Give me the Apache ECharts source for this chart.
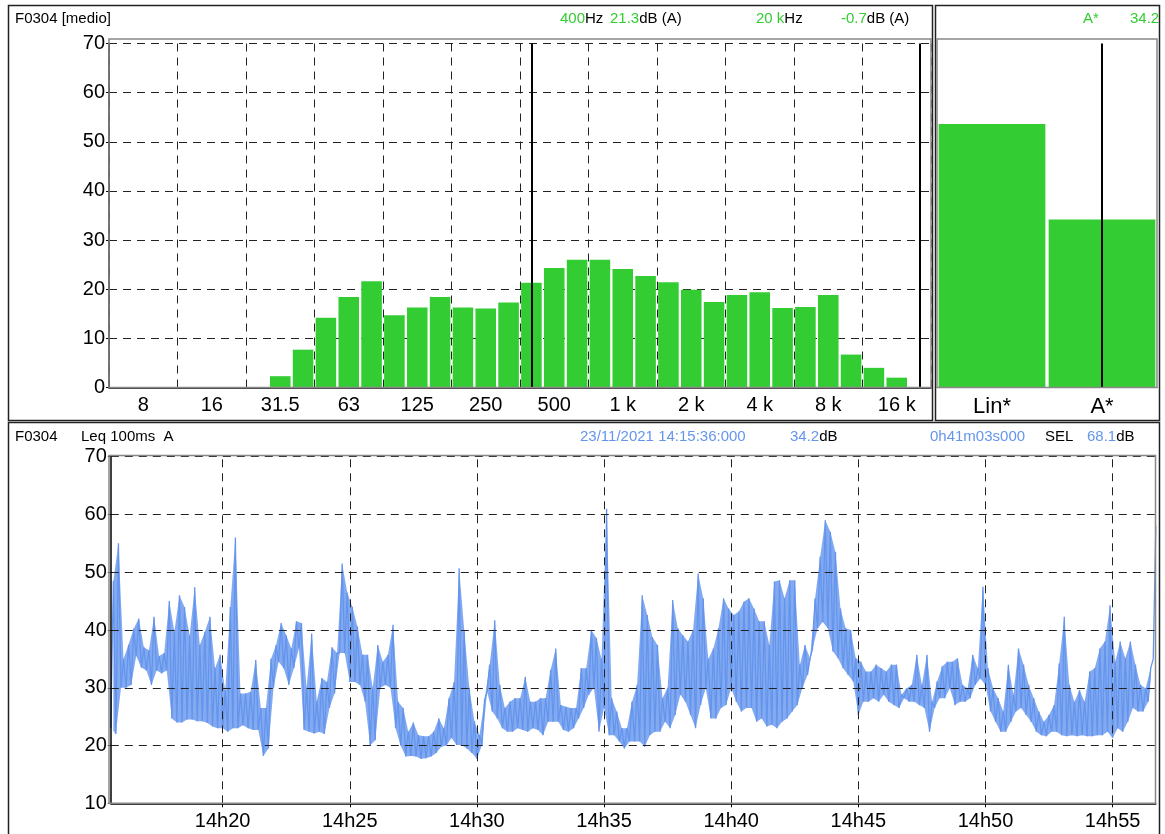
<!DOCTYPE html>
<html>
<head>
<meta charset="utf-8">
<script src="https://cdn.jsdelivr.net/npm/echarts@6.0.0/dist/echarts.min.js"></script>
<style>
  html, body { margin: 0; padding: 0; background: #fff; }
  #main { width: 1165px; height: 834px; }
</style>
</head>
<body>
<div id="main"></div>
<script>
// 1/3 octave spectrum, dB(A)
var bandLabels = ['6.3', '8', '10', '12.5', '16', '20', '25', '31.5', '40', '50', '63', '80',
    '100', '125', '160', '200', '250', '315', '400', '500', '630', '800', '1 k', '1.25 k',
    '1.6 k', '2 k', '2.5 k', '3.15 k', '4 k', '5 k', '6.3 k', '8 k', '10 k', '12.5 k', '16 k', '20 k'];
var bandLevels = [null, null, null, null, null, null, null, 2.3, 7.7, 14.2, 18.4, 21.6,
    14.7, 16.3, 18.4, 16.3, 16.1, 17.3, 21.3, 24.3, 26.0, 26.0, 24.1, 22.7,
    21.4, 19.9, 17.4, 18.8, 19.4, 16.2, 16.4, 18.8, 6.7, 4.0, 2.0, -0.7];
var cursorBands = ['400', '20 k'];

// global levels
var totalLabels = ['Lin*', 'A*'];
var totalLevels = [53.6, 34.2];

// Leq 100ms A : low / high envelope every 12 s, time in seconds after 14h00
var startSec = 936;          // 14:15:36
var endSec = 3402;
var stepSeconds = 12;
var timeTicks = [1200, 1500, 1800, 2100, 2400, 2700, 3000, 3300];
var leqLow = [
    23, 22, 30, 30, 30.5, 35.5, 33.5, 33, 30.5, 33,
    32.5, 33, 24.7, 24, 24, 24.5, 24.5, 24.2, 24.2, 23.9,
    23.3, 23, 23, 22.4, 23, 23, 23.5, 23, 22.7, 22.7,
    18.2, 19.5, 30, 34.5, 33.4, 30.5, 33.4, 36.8, 22.7, 22.4,
    22.1, 22.4, 22, 26.5, 29, 36, 36, 31, 31, 30.5,
    27.6, 20, 20.9, 30, 30.5, 30, 23, 20, 18.1, 18.2,
    18.1, 17.7, 17.8, 18.1, 18.7, 19.8, 20, 21.3, 20.1, 20.1,
    19.5, 18.7, 17.7, 20.1, 29.3, 25.9, 24.7, 23, 22.4, 22.4,
    23, 22.7, 22.4, 23, 22.7, 21.8, 24.1, 24.1, 24.1, 22.7,
    22.4, 23, 24.7, 26.5, 28.8, 30, 22.4, 26.5, 21.8, 21.8,
    20.7, 19.5, 20.7, 20.7, 20.7, 19.8, 21.8, 22.4, 22.4, 24.1,
    23, 25.3, 28.8, 27.6, 25.3, 23, 27, 29.9, 24.7, 24.7,
    26.5, 27, 29.9, 27.6, 25.9, 26.5, 26.5, 24.1, 24.7, 23.3,
    23.6, 23, 24.1, 24.7, 25.9, 27, 29.9, 32.2, 36.8, 40.3,
    41.4, 40.3, 36.3, 35.1, 33.4, 32.2, 31.1, 25.3, 27.6, 27.6,
    28.2, 27.6, 28.8, 27.6, 27, 26.5, 28.2, 27.6, 27.6, 27,
    26.5, 22.4, 26.5, 28.2, 28.2, 29.9, 27, 27.6, 27.6, 28.2,
    30.5, 31.6, 30.5, 25.9, 24.1, 22.4, 22.4, 24.1, 25.9, 26.5,
    25.3, 24.1, 22.4, 21.8, 21.6, 22.4, 22.4, 21.8, 21.6, 21.8,
    21.6, 21.8, 21.6, 21.6, 21.8, 21.8, 22.4, 21.3, 23, 22.4,
    24.1, 26.5, 25.9, 25.9, 27.6, 35
];
var leqHigh = [
    48.5, 55, 35, 37.5, 40.2, 42, 37, 36.5, 42.3, 35.5,
    36, 45, 39.7, 46, 44, 39, 47.4, 37.4, 39.7, 42.3,
    33.4, 35.7, 29.5, 44, 56, 29, 29, 29.3, 34.8, 26.5,
    26.5, 35, 37.4, 41.2, 39.1, 36.8, 41.5, 41.2, 30, 39.4,
    27.7, 31.7, 31, 37, 36, 51.5, 46.5, 44, 40.6, 35.7,
    35.7, 30, 37.4, 34.5, 35.7, 40.9, 27.6, 26.5, 22.4, 24,
    21.8, 21.6, 21.6, 22.4, 24.7, 23, 28.2, 31, 50.7, 40,
    30, 24.2, 21.8, 27.9, 34, 41.7, 30.5, 26.5, 27.6, 28.2,
    28.2, 31.9, 27.6, 27.6, 28.2, 28.2, 33.1, 36.8, 27, 26.7,
    26.5, 26.5, 33.4, 33.4, 40, 38.6, 35, 61, 28.2, 25.9,
    23, 23, 27.6, 30.5, 46, 42.6, 38.8, 37.4, 28.2, 30,
    45.2, 40.3, 39.1, 38, 40, 49.8, 45.5, 35, 36.8, 40.3,
    45.5, 43.7, 42.6, 43.2, 44.9, 45.5, 43.7, 41.5, 41.5, 37.4,
    48.4, 48.6, 45.5, 48.6, 48.6, 34, 37.4, 35.1, 45.5, 52.7,
    59, 57, 53.5, 43.7, 40.3, 40, 35.1, 34.5, 32.8, 32.8,
    34, 33.4, 32.8, 34, 34, 28.8, 29.9, 30.5, 35.7, 30.5,
    35.7, 27.6, 31.1, 33.7, 34.5, 34.5, 35.1, 30.5, 29.9, 35.7,
    33.4, 47.5, 33.4, 29.9, 28.2, 25.9, 34, 28.8, 36.8, 34,
    30.5, 28.2, 25.9, 24.1, 25.3, 27, 34.2, 42.3, 30.5, 27.6,
    29.6, 27.6, 32.8, 33.4, 36.8, 38, 44.3, 34.5, 38, 35.1,
    38, 34, 30.5, 29.9, 33.4, 58
];

var leqData = [], lowData = [], highData = [];
for (var i = 0; i < leqLow.length; i++) {
    var t = startSec + i * stepSeconds;
    lowData.push([t, leqLow[i]]);
    highData.push([t + stepSeconds / 2, leqHigh[i]]);
    leqData.push([t, leqLow[i]]);
    leqData.push([t + stepSeconds / 2, leqHigh[i]]);
}

var FONT = '"Liberation Sans", Arial, sans-serif';
var GREEN = '#33CC33';
var BLUE = '#6495ED';
var dash = { color: '#222', width: 1, type: [8, 6] };

function hdr(x, y, text) {
    return {
        type: 'text', x: x, y: y, silent: true,
        style: {
            text: text, font: '15px ' + FONT, verticalAlign: 'middle', fill: '#000',
            rich: {
                g: { fill: GREEN, fontSize: 15, fontFamily: FONT },
                b: { fill: BLUE, fontSize: 15, fontFamily: FONT },
                k: { fill: '#000', fontSize: 15, fontFamily: FONT }
            }
        }
    };
}
function box(x, y, w, h, color, lw) {
    return {
        type: 'rect', silent: true, z: 100,
        shape: { x: x, y: y, width: w, height: h },
        style: { fill: null, stroke: color, lineWidth: lw }
    };
}
function minuteLabel(v) {
    var m = Math.round(v / 60);
    return '14h' + (m < 10 ? '0' + m : m);
}

var myChart = echarts.init(document.getElementById('main'));
var option = {
    animation: false,
    textStyle: { fontFamily: FONT },
    grid: [
        { left: 109, top: 43.5, width: 822, height: 344 },
        { left: 937, top: 43.5, width: 220, height: 344 },
        { left: 110.8, top: 456.7, width: 1045, height: 346.6 }
    ],
    xAxis: [
        {
            type: 'category', gridIndex: 0, data: bandLabels,
            axisLine: { lineStyle: { color: '#000', width: 1.5 } },
            axisTick: { alignWithLabel: true, length: 4, lineStyle: { color: '#000' },
                interval: function (idx) { return idx % 3 === 1; } },
            axisLabel: { color: '#000', fontSize: 20, margin: 8, fontFamily: FONT,
                interval: function (idx) { return idx % 3 === 1; } },
            splitLine: { show: true, lineStyle: dash,
                interval: function (idx) { return idx % 3 === 0; } }
        },
        {
            type: 'category', gridIndex: 1, data: totalLabels,
            axisLine: { lineStyle: { color: '#000' } },
            axisTick: { alignWithLabel: true, length: 4, lineStyle: { color: '#000' } },
            axisLabel: { color: '#000', fontSize: 22, margin: 8, fontFamily: FONT }
        },
        {
            type: 'value', gridIndex: 2, min: startSec, max: endSec, z: 6,
            axisLine: { lineStyle: { color: '#000', width: 1.5 } },
            axisTick: { show: true, length: 4, customValues: timeTicks, lineStyle: { color: '#000' } },
            axisLabel: { color: '#000', fontSize: 20, margin: 8, fontFamily: FONT,
                customValues: timeTicks, formatter: minuteLabel },
            splitLine: { show: false }
        }
    ],
    yAxis: [
        {
            type: 'value', gridIndex: 0, min: 0, max: 70, interval: 10,
            axisLine: { show: true, lineStyle: { color: '#000', width: 1.5 } },
            axisTick: { show: true, length: 3, lineStyle: { color: '#000' } },
            axisLabel: { color: '#000', fontSize: 20, margin: 4, fontFamily: FONT },
            splitLine: { show: true, lineStyle: dash }
        },
        {
            type: 'value', gridIndex: 1, min: 0, max: 70, interval: 10,
            axisLine: { show: false }, axisTick: { show: false },
            axisLabel: { show: false }, splitLine: { show: false }
        },
        {
            type: 'value', gridIndex: 2, min: 10, max: 70, interval: 10, z: 6,
            axisLine: { show: true, lineStyle: { color: '#000', width: 1.5 } },
            axisTick: { show: true, length: 3, lineStyle: { color: '#000' } },
            axisLabel: { color: '#000', fontSize: 20, margin: 4, fontFamily: FONT },
            splitLine: { show: true, lineStyle: dash }
        }
    ],
    series: [
        {
            type: 'bar', xAxisIndex: 0, yAxisIndex: 0, data: bandLevels,
            barCategoryGap: '10%', clip: true,
            itemStyle: { color: GREEN },
            markLine: {
                silent: true, symbol: 'none', label: { show: false },
                lineStyle: { color: '#000', width: 2, type: 'solid' },
                data: cursorBands.map(function (b) { return { xAxis: b }; })
            }
        },
        {
            type: 'bar', xAxisIndex: 1, yAxisIndex: 1, data: totalLevels,
            barCategoryGap: '3%',
            itemStyle: { color: GREEN },
            markLine: {
                silent: true, symbol: 'none', label: { show: false },
                lineStyle: { color: '#000', width: 2, type: 'solid' },
                data: [{ xAxis: 'A*' }]
            }
        },
        {
            // upper envelope, filled down to the axis
            type: 'line', xAxisIndex: 2, yAxisIndex: 2, data: highData.slice(0, -1),
            showSymbol: false, z: 1, lineStyle: { opacity: 0 },
            areaStyle: { color: BLUE, opacity: 0.8, origin: 'start' }
        },
        {
            // lower envelope, blanks the area under the band
            type: 'line', xAxisIndex: 2, yAxisIndex: 2, data: lowData,
            showSymbol: false, z: 2, lineStyle: { opacity: 0 },
            areaStyle: { color: '#fff', opacity: 1, origin: 'start' }
        },
        {
            type: 'line', xAxisIndex: 2, yAxisIndex: 2, data: leqData,
            showSymbol: false, sampling: null, z: 3,
            lineStyle: { color: BLUE, width: 1.3 }
        },
        {
            // vertical grid of the time axis
            type: 'line', xAxisIndex: 2, yAxisIndex: 2, data: [], z: 5,
            markLine: {
                silent: true, symbol: 'none', label: { show: false },
                lineStyle: dash,
                data: timeTicks.map(function (t) { return { xAxis: t }; })
            }
        }
    ],
    graphic: [
        box(8.5, 5.5, 924, 415, '#222', 1.5),
        box(935.5, 5.5, 224, 415, '#222', 1.5),
        box(8.5, 422.5, 1151, 420, '#222', 1.5),
        box(109, 39, 822, 348.5, '#888', 1.5),
        box(937, 39, 220, 348.5, '#888', 1.5),
        box(109, 455.5, 1046.5, 347.8, '#888', 1.5),
        hdr(15, 19, 'F0304 [medio]'),
        hdr(560, 19, '{g|400}{k|Hz}'),
        hdr(610, 19, '{g|21.3}{k|dB (A)}'),
        hdr(756, 19, '{g|20 k}{k|Hz}'),
        hdr(841, 19, '{g|-0.7}{k|dB (A)}'),
        hdr(1083, 19, '{g|A*}'),
        hdr(1130, 19, '{g|34.2}'),
        hdr(15, 437, 'F0304'),
        hdr(81, 437, 'Leq 100ms  A'),
        hdr(580, 437, '{b|23/11/2021 14:15:36:000}'),
        hdr(790, 437, '{b|34.2}{k|dB}'),
        hdr(930, 437, '{b|0h41m03s000}'),
        hdr(1045, 437, 'SEL'),
        hdr(1087, 437, '{b|68.1}{k|dB}')
    ]
};
myChart.setOption(option);
</script>
</body>
</html>
